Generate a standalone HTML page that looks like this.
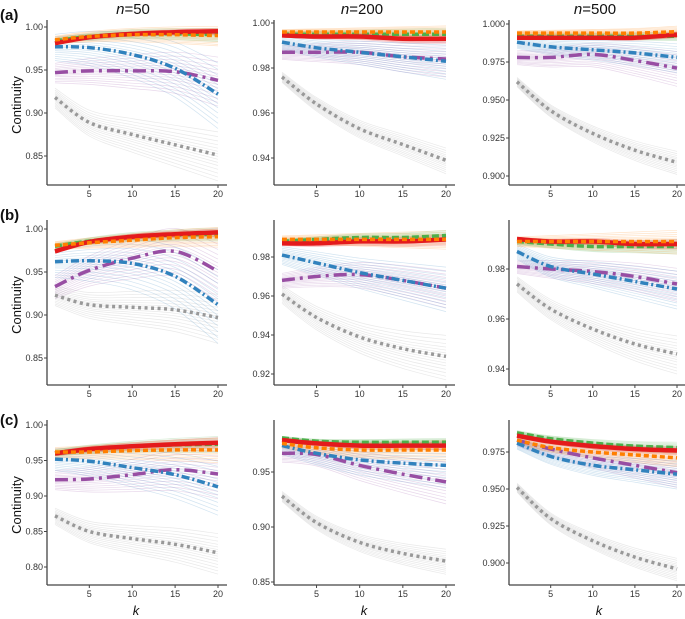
<!DOCTYPE html>
<html><head><meta charset="utf-8"><style>
html,body{margin:0;padding:0;background:#fff;}
svg{display:block;font-family:"Liberation Sans",sans-serif;}
</style></head><body>
<svg id="c" width="685" height="619" viewBox="0 0 685 619"></svg>
<script>
const kPoints=[1,5,10,15,20];
const seriesNames=["gray","purple","blue","green","red","orange"];
const a1_gray=[0.918,0.889,0.875,0.863,0.851], a1_purple=[0.947,0.949,0.949,0.948,0.938], a1_blue=[0.977,0.976,0.968,0.952,0.922], a1_green=[0.984,0.989,0.992,0.992,0.991], a1_red=[0.981,0.988,0.992,0.994,0.995], a1_orange=[0.985,0.989,0.991,0.991,0.990];
const a2_gray=[0.976,0.964,0.953,0.946,0.939], a2_purple=[0.987,0.987,0.987,0.985,0.984], a2_blue=[0.9915,0.989,0.987,0.985,0.983], a2_green=[0.995,0.995,0.995,0.995,0.995], a2_red=[0.9945,0.994,0.994,0.993,0.993], a2_orange=[0.996,0.996,0.996,0.996,0.996];
const a3_gray=[0.962,0.943,0.928,0.917,0.909], a3_purple=[0.978,0.978,0.980,0.976,0.971], a3_blue=[0.988,0.985,0.983,0.981,0.978], a3_green=[0.992,0.992,0.992,0.992,0.992], a3_red=[0.991,0.991,0.991,0.991,0.993], a3_orange=[0.994,0.994,0.994,0.994,0.995];
const b1_gray=[0.923,0.912,0.909,0.906,0.897], b1_purple=[0.933,0.952,0.966,0.974,0.951], b1_blue=[0.962,0.963,0.960,0.945,0.912], b1_green=[0.980,0.986,0.991,0.993,0.994], b1_red=[0.974,0.985,0.991,0.994,0.996], b1_orange=[0.981,0.984,0.987,0.990,0.991];
const b2_gray=[0.961,0.949,0.939,0.933,0.929], b2_purple=[0.968,0.970,0.971,0.968,0.964], b2_blue=[0.981,0.977,0.972,0.968,0.964], b2_green=[0.988,0.989,0.990,0.990,0.991], b2_red=[0.987,0.987,0.988,0.988,0.989], b2_orange=[0.989,0.989,0.989,0.989,0.989];
const b3_gray=[0.974,0.964,0.956,0.950,0.946], b3_purple=[0.981,0.980,0.979,0.977,0.974], b3_blue=[0.987,0.981,0.978,0.975,0.972], b3_green=[0.991,0.990,0.989,0.989,0.989], b3_red=[0.992,0.991,0.991,0.990,0.990], b3_orange=[0.991,0.991,0.991,0.991,0.991];
const c1_gray=[0.872,0.850,0.840,0.832,0.820], c1_purple=[0.923,0.924,0.930,0.937,0.931], c1_blue=[0.952,0.949,0.940,0.930,0.913], c1_green=[0.961,0.966,0.970,0.972,0.973], c1_red=[0.960,0.966,0.970,0.973,0.975], c1_orange=[0.962,0.962,0.964,0.965,0.965];
const c2_gray=[0.928,0.904,0.886,0.876,0.869], c2_purple=[0.967,0.966,0.956,0.948,0.941], c2_blue=[0.974,0.967,0.961,0.958,0.956], c2_green=[0.981,0.978,0.977,0.977,0.977], c2_red=[0.979,0.976,0.974,0.974,0.974], c2_orange=[0.976,0.972,0.970,0.970,0.970];
const c3_gray=[0.951,0.930,0.915,0.904,0.896], c3_purple=[0.983,0.977,0.971,0.966,0.961], c3_blue=[0.981,0.972,0.966,0.963,0.960], c3_green=[0.988,0.984,0.981,0.979,0.978], c3_red=[0.986,0.982,0.979,0.977,0.976], c3_orange=[0.983,0.978,0.975,0.973,0.971];
const a1_ticks=[0.85,0.90,0.95,1.00], a2_ticks=[0.94,0.96,0.98,1.00], a3_ticks=[0.900,0.925,0.950,0.975,1.000];
const b1_ticks=[0.85,0.90,0.95,1.00], b2_ticks=[0.92,0.94,0.96,0.98], b3_ticks=[0.94,0.96,0.98];
const c1_ticks=[0.80,0.85,0.90,0.95,1.00], c2_ticks=[0.85,0.90,0.95], c3_ticks=[0.900,0.925,0.950,0.975];
const xTicks=[5,10,15,20];
const colTitles=["n=50","n=200","n=500"];
const rowLabels=["(a)","(b)","(c)"];

const panels=[
 {id:"a1",r:0,c:0,v0:1.00,y0:27,ppu:860,dec:2,ticks:a1_ticks,s:[a1_gray,a1_purple,a1_blue,a1_green,a1_red,a1_orange],sp:[0.03,0.03,0.04,0.008,0.004,0.012]},
 {id:"a2",r:0,c:1,v0:1.00,y0:23,ppu:2250,dec:2,ticks:a2_ticks,s:[a2_gray,a2_purple,a2_blue,a2_green,a2_red,a2_orange],sp:[0.006,0.008,0.008,0.003,0.002,0.003]},
 {id:"a3",r:0,c:2,v0:1.00,y0:24,ppu:1520,dec:3,ticks:a3_ticks,s:[a3_gray,a3_purple,a3_blue,a3_green,a3_red,a3_orange],sp:[0.008,0.012,0.01,0.003,0.002,0.004]},
 {id:"b1",r:1,c:0,v0:1.00,y0:29,ppu:860,dec:2,ticks:b1_ticks,s:[b1_gray,b1_purple,b1_blue,b1_green,b1_red,b1_orange],sp:[0.03,0.035,0.045,0.008,0.005,0.012]},
 {id:"b2",r:1,c:1,v0:0.98,y0:57,ppu:1950,dec:2,ticks:b2_ticks,s:[b2_gray,b2_purple,b2_blue,b2_green,b2_red,b2_orange],sp:[0.012,0.01,0.012,0.003,0.003,0.005]},
 {id:"b3",r:1,c:2,v0:0.98,y0:69,ppu:2500,dec:2,ticks:b3_ticks,s:[b3_gray,b3_purple,b3_blue,b3_green,b3_red,b3_orange],sp:[0.008,0.007,0.008,0.003,0.002,0.005]},
 {id:"c1",r:2,c:0,v0:1.00,y0:25,ppu:710,dec:2,ticks:c1_ticks,s:[c1_gray,c1_purple,c1_blue,c1_green,c1_red,c1_orange],sp:[0.03,0.035,0.04,0.012,0.008,0.018]},
 {id:"c2",r:2,c:1,v0:0.95,y0:72,ppu:1100,dec:2,ticks:c2_ticks,s:[c2_gray,c2_purple,c2_blue,c2_green,c2_red,c2_orange],sp:[0.012,0.02,0.02,0.004,0.004,0.01]},
 {id:"c3",r:2,c:2,v0:0.975,y0:52,ppu:1480,dec:3,ticks:c3_ticks,s:[c3_gray,c3_purple,c3_blue,c3_green,c3_red,c3_orange],sp:[0.008,0.01,0.01,0.004,0.003,0.006]}
];
const styles={
 gray:{col:"#999999",w:3.5,dash:"3,3.5"},
 purple:{col:"#984ea3",w:3.5,dash:"13,5,3,5"},
 blue:{col:"#3182bd",w:3.5,dash:"8,3,2,3"},
 green:{col:"#4daf4a",w:3.5,dash:"7,3"},
 red:{col:"#e41a1c",w:4.5,dash:""},
 orange:{col:"#ff7f00",w:3.5,dash:"5,3"}
};
const colAxis=[47,274,509], colK1=[55,282,517], colK20=[218,446,677];
const rowTop=[0,200,400];
const NS="http://www.w3.org/2000/svg";
const svg=document.getElementById("c");
function el(t,a,p){const e=document.createElementNS(NS,t);for(const k in a)e.setAttribute(k,a[k]);(p||svg).appendChild(e);return e;}
function pathFrom(pts){
 let d="M"+pts[0][0].toFixed(1)+","+pts[0][1].toFixed(1);
 for(let i=0;i<pts.length-1;i++){
  const p0=pts[i-1]||pts[i],p1=pts[i],p2=pts[i+1],p3=pts[i+2]||p2;
  const c1x=p1[0]+(p2[0]-p0[0])/6,c1y=p1[1]+(p2[1]-p0[1])/6,c2x=p2[0]-(p3[0]-p1[0])/6,c2y=p2[1]-(p3[1]-p1[1])/6;
  d+=" C"+c1x.toFixed(1)+","+c1y.toFixed(1)+" "+c2x.toFixed(1)+","+c2y.toFixed(1)+" "+p2[0].toFixed(1)+","+p2[1].toFixed(1);
 }
 return d;
}
const offs=[-1,-0.85,-0.7,-0.55,-0.4,-0.28,-0.16,-0.05,0.05,0.15,0.27,0.4,0.55,0.72,0.9];
panels.forEach(p=>{
 const top=rowTop[p.r];
 const xs=k=>colK1[p.c]+(k-1)*(colK20[p.c]-colK1[p.c])/19;
 const ys=v=>top+p.y0+(p.v0-v)*p.ppu;
 const g=el("g",{});
 
 
 const cid="clip-"+p.id;
 const cp=el("clipPath",{id:cid},g);
 el("rect",{x:colAxis[p.c]+1,y:top+18,width:colK20[p.c]-colAxis[p.c]+6,height:167},cp);
 const plot=el("g",{"clip-path":"url(#"+cid+")"},g);
 p.s.forEach((vals,si)=>{
  const st=styles[seriesNames[si]];
  offs.forEach(o=>{
   const pts=kPoints.map((k,i)=>[xs(k),ys(vals[i]+o*p.sp[si]*(0.4+0.6*(k-1)/19))]);
   const ln=el("path",{d:pathFrom(pts),fill:"none",stroke:st.col,"stroke-width":0.7,"stroke-opacity":0.22},plot);
   
   
  });
 });
 p.s.forEach((vals,si)=>{
  const st=styles[seriesNames[si]];
  const pts=kPoints.map((k,i)=>[xs(k),ys(vals[i])]);
  const ln=el("path",{d:pathFrom(pts),fill:"none",stroke:st.col,"stroke-width":st.w,"stroke-dasharray":st.dash},plot);
  
  
 });
 const ax=colAxis[p.c], by=top+185;
 el("line",{x1:ax,y1:top+20,x2:ax,y2:by,stroke:"#444","stroke-width":1.3},g);
 el("line",{x1:ax,y1:by,x2:colK20[p.c]+9,y2:by,stroke:"#444","stroke-width":1.3},g);
 p.ticks.forEach(v=>{
  const y=ys(v);
  el("line",{x1:ax-3,y1:y,x2:ax,y2:y,stroke:"#444","stroke-width":1},g);
  const t=el("text",{x:ax-4,y:y+3.2,"font-size":9,fill:"#333","text-anchor":"end"},g);
  t.textContent=v.toFixed(p.dec);
  
  
 });
 xTicks.forEach(k=>{
  const x=xs(k);
  el("line",{x1:x,y1:by,x2:x,y2:by+3,stroke:"#444","stroke-width":1},g);
  const t=el("text",{x:x,y:by+12,"font-size":9,fill:"#333","text-anchor":"middle"},g);
  t.textContent=k;
  
  
 });
});
const titleX=[133,362,595];
colTitles.forEach((s,i)=>{
 const t=el("text",{x:titleX[i],y:14,"font-size":15,fill:"#111","text-anchor":"middle"});
 const parts=s.split("=");
 const it=el("tspan",{"font-style":"italic"},t);it.textContent=parts[0];
 const rest=el("tspan",{},t);rest.textContent="="+parts[1];
 
 
});
rowLabels.forEach((s,i)=>{
 const t=el("text",{x:0,y:rowTop[i]+(i==2?25:20),"font-size":15,"font-weight":"bold",fill:"#111"});
 t.textContent=s;
 
 
 const c=el("text",{x:0,y:0,"font-size":13,fill:"#111","text-anchor":"middle",transform:"translate(21,"+(rowTop[i]+105)+") rotate(-90)"});
 c.textContent="Continuity";
 
 
});
[136,364,599].forEach(x=>{
 const t=el("text",{x:x,y:615,"font-size":13,"font-style":"italic",fill:"#111","text-anchor":"middle"});
 t.textContent="k";
 
 
});
</script>
</body></html>
